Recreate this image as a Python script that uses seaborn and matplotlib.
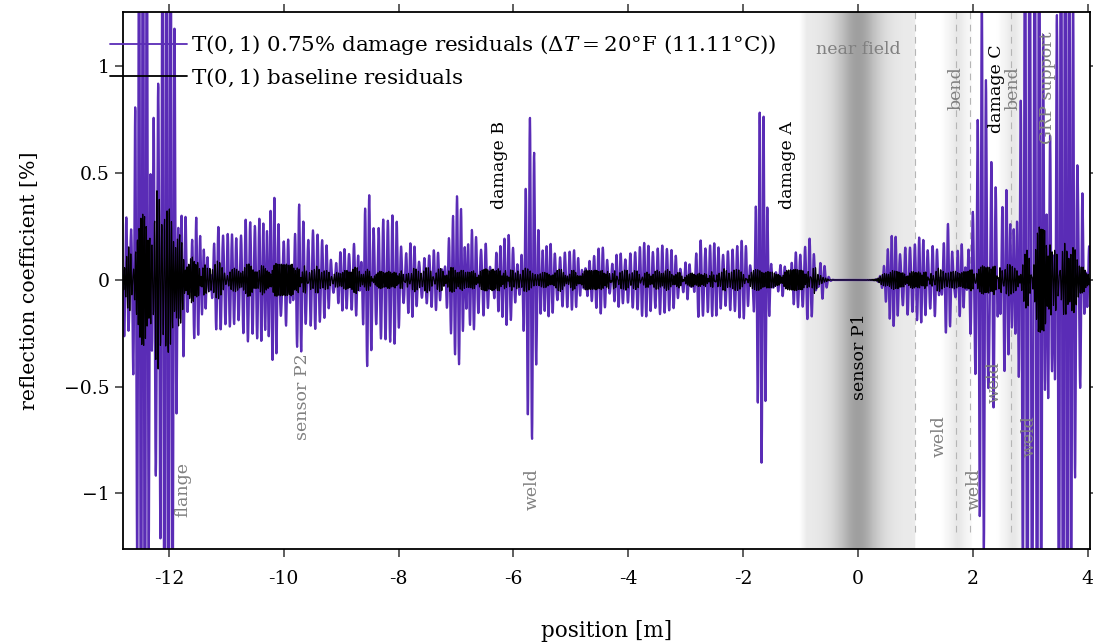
import numpy as np
import pandas as pd
import matplotlib
matplotlib.use("Agg")
import matplotlib.pyplot as plt
import seaborn as sns

# ---- echo tables: position [m], peak reflection [%], burst width [m] ----
damage_pos = [-12.75, -12.45, -12.26, -12.02, -11.75, -11.55, -11.35, -11.15,
              -10.90, -10.65, -10.40, -10.20, -9.95, -9.75, -9.50, -9.25,
              -9.00, -8.75, -8.55, -8.30, -8.05, -7.80, -7.55, -7.30,
              -7.10, -6.95, -6.75, -6.50, -6.30, -6.08, -5.70, -5.40,
              -5.15, -4.90, -4.70, -4.45, -4.20, -3.95, -3.70, -3.45,
              -3.20, -2.95, -2.75, -2.50, -2.25, -2.00, -1.68, -1.30,
              -1.10, -0.85, -0.65, 0.60, 0.85, 1.10, 1.35, 1.55,
              1.80, 2.00, 2.17, 2.35, 2.55, 2.75, 2.97, 3.15,
              3.35, 3.55, 3.70, 3.87, 4.00]
damage_amp = [0.30, 2.60, 0.90, 2.60, 0.45, 0.30, 0.20, 0.24,
              0.17, 0.30, 0.25, 0.40, 0.25, 0.35, 0.24, 0.15,
              0.12, 0.20, 0.40, 0.28, 0.28, 0.15, 0.13, 0.13,
              0.20, 0.36, 0.21, 0.21, 0.15, 0.19, 0.78, 0.15,
              0.15, 0.12, 0.08, 0.16, 0.10, 0.15, 0.14, 0.17,
              0.12, 0.10, 0.19, 0.15, 0.15, 0.17, 0.86, 0.08,
              0.12, 0.20, 0.12, 0.20, 0.18, 0.18, 0.20, 0.30,
              0.18, 0.30, 1.30, 0.70, 0.45, 0.40, 2.40, 2.00,
              0.90, 2.40, 1.50, 0.55, 0.20]
damage_wid = [0.06, 0.09, 0.05, 0.10, 0.09, 0.11, 0.12, 0.12,
              0.12, 0.11, 0.11, 0.10, 0.11, 0.10, 0.12, 0.12,
              0.12, 0.11, 0.09, 0.12, 0.12, 0.12, 0.12, 0.12,
              0.10, 0.08, 0.12, 0.12, 0.11, 0.10, 0.08, 0.12,
              0.12, 0.12, 0.11, 0.12, 0.12, 0.12, 0.12, 0.12,
              0.12, 0.11, 0.10, 0.12, 0.12, 0.11, 0.075, 0.10,
              0.10, 0.11, 0.07, 0.10, 0.11, 0.11, 0.10, 0.09,
              0.10, 0.08, 0.07, 0.08, 0.10, 0.09, 0.09, 0.08,
              0.07, 0.09, 0.07, 0.06, 0.05]

baseline_pos = [-12.70, -12.45, -12.15, -11.90, -11.60, -11.20, -10.60, -10.00,
                -9.40, -8.80, -8.20, -7.60, -7.00, -6.40, -5.80, -5.20,
                -4.60, -4.00, -3.40, -2.80, -2.20, -1.70, -1.10, -0.75,
                0.60, 1.00, 1.50, 1.90, 2.25, 2.60, 2.95, 3.20,
                3.45, 3.70, 3.95]
baseline_amp = [0.12, 0.30, 0.40, 0.24, 0.12, 0.07, 0.06, 0.06,
                0.05, 0.05, 0.05, 0.045, 0.045, 0.045, 0.045, 0.04,
                0.04, 0.04, 0.04, 0.04, 0.045, 0.045, 0.04, 0.04,
                0.04, 0.04, 0.045, 0.045, 0.07, 0.06, 0.10, 0.20,
                0.12, 0.14, 0.06]
baseline_wid = [0.08, 0.10, 0.10, 0.10, 0.12, 0.18, 0.25, 0.25,
                0.25, 0.25, 0.25, 0.25, 0.25, 0.25, 0.25, 0.25,
                0.25, 0.25, 0.25, 0.25, 0.25, 0.22, 0.20, 0.10,
                0.15, 0.20, 0.20, 0.18, 0.15, 0.15, 0.12, 0.10,
                0.12, 0.12, 0.08]

# carrier wavelengths [m] used in turn by successive echoes
damage_periods = [0.074, 0.068, 0.080, 0.071, 0.077]
baseline_periods = [0.036, 0.031, 0.043]

# ---- shaded regions: start, end, darkest position, darkness ----
zone_start = [-1.02, 1.45, 2.42]
zone_end = [1.00, 1.98, 2.92]
zone_peak = [0.00, 1.74, 2.70]
zone_dark = [0.47, 0.17, 0.17]
dashed_at = [1.00, 1.71, 1.95, 2.66]

# ---- annotations: text, x, y, colour, rotation ----
notes = [
    ("flange", -11.75, -0.98, "#808080", 90),
    ("sensor P2", -9.68, -0.545, "#808080", 90),
    ("weld", -5.68, -0.98, "#808080", 90),
    ("damage B", -6.24, 0.54, "black", 90),
    ("damage A", -1.23, 0.54, "black", 90),
    ("near field", 0.0, 1.08, "#808080", 0),
    ("sensor P1", 0.03, -0.36, "black", 90),
    ("bend", 1.71, 0.90, "#808080", 90),
    ("damage C", 2.41, 0.895, "black", 90),
    ("bend", 2.70, 0.90, "#808080", 90),
    ("GRP support", 3.30, 0.90, "#808080", 90),
    ("weld", 1.42, -0.73, "#808080", 90),
    ("weld", 2.02, -0.98, "#808080", 90),
    ("weld", 2.37, -0.48, "#808080", 90),
    ("weld", 2.98, -0.73, "#808080", 90),
]

x_ticks = [-12, -10, -8, -6, -4, -2, 0, 2, 4]
x_labels = ["-12", "-10", "-8", "-6", "-4", "-2", "0", "2", "4"]
y_ticks = [-1, -0.5, 0, 0.5, 1]
y_labels = ["\u22121", "\u22120.5", "0", "0.5", "1"]
x_range = (-12.8, 4.04)
y_range = (-1.26, 1.255)

label_damage = r"T$(0,1)$ 0.75% damage residuals ($\Delta T = 20$°F (11.11°C))"
label_base = r"T$(0,1)$ baseline residuals"

# ---- build the traces as sums of tone bursts ----
position = np.arange(x_range[0], x_range[1], 0.004)


def tone_bursts(pos, amp, wid, periods, phase_step):
    out = np.zeros_like(position)
    for i, (c, a, w) in enumerate(zip(pos, amp, wid)):
        env = a * np.exp(-0.5 * ((position - c) / w) ** 2)
        p = periods[i % len(periods)]
        out += env * np.sin(2 * np.pi * (position - c) / p + phase_step * (i + 1))
    return out


damage = tone_bursts(damage_pos, damage_amp, damage_wid, damage_periods, 0.9)
baseline = (tone_bursts(baseline_pos, baseline_amp, baseline_wid, baseline_periods, 1.3)
            + 0.3 * tone_bursts(baseline_pos, baseline_amp, baseline_wid,
                                baseline_periods[::-1], 2.1))

df = pd.concat([
    pd.DataFrame({"position": position, "value": damage, "series": "damage"}),
    pd.DataFrame({"position": position, "value": baseline, "series": "baseline"}),
])

sns.set_theme(style="ticks")
plt.rcParams["font.family"] = ["DejaVu Serif"]
plt.rcParams["mathtext.fontset"] = "dejavuserif"
plt.rcParams["text.color"] = "black"
plt.rcParams["axes.labelcolor"] = "black"

fig = plt.figure(figsize=(10.93, 6.43), dpi=100)
ax = fig.add_axes([123 / 1093, 1 - 549 / 643, (1090 - 123) / 1093, (549 - 12) / 643])

# shaded regions as a horizontal gradient image
shade_x = np.linspace(x_range[0], x_range[1], 3000)
shade = np.zeros_like(shade_x)
for s, e, pk, dk in zip(zone_start, zone_end, zone_peak, zone_dark):
    inside = (shade_x >= s) & (shade_x <= e)
    if pk == 0.0:
        prof = 0.15 + (dk - 0.15) * np.exp(-0.5 * ((shade_x - pk) / 0.30) ** 2)
        edge = np.clip((shade_x - s) / 0.12, 0, 1)
    else:
        prof = 0.04 + (dk - 0.04) * np.exp(-0.5 * ((shade_x - pk) / 0.11) ** 2)
        edge = np.clip((shade_x - s) / 0.08, 0, 1)
    shade = np.maximum(shade, np.where(inside, prof * edge, 0))
ax.imshow(shade[None, :], cmap="Greys", vmin=0, vmax=1, aspect="auto",
          extent=[x_range[0], x_range[1], y_range[0], y_range[1]],
          interpolation="bilinear", zorder=0)
for xd in dashed_at:
    ax.plot([xd, xd], [-1.18, y_range[1]], color="#b5b5b5", lw=0.8,
            ls=(0, (6, 5)), zorder=0.5)

sns.lineplot(data=df[df.series == "damage"], x="position", y="value",
             color="#5a2cb6", lw=1.6, estimator=None, sort=False, ax=ax,
             label=label_damage, zorder=2)
sns.lineplot(data=df[df.series == "baseline"], x="position", y="value",
             color="black", lw=0.85, estimator=None, sort=False, ax=ax,
             label=label_base, zorder=3)

for text, xt, yt, col, rot in notes:
    ax.text(xt, yt, text, color=col, rotation=rot, ha="center", va="center",
            fontsize=12.5, zorder=4)

ax.set_xlim(*x_range)
ax.set_ylim(*y_range)
ax.set_xticks(x_ticks)
ax.set_xticklabels(x_labels)
ax.set_yticks(y_ticks)
ax.set_yticklabels(y_labels)
ax.tick_params(axis="both", which="both", direction="out", length=6, width=1.1,
               color="#333333", labelcolor="black", labelsize=13.5,
               top=True, right=True, labeltop=False, labelright=False)
ax.tick_params(axis="x", pad=9)
for sp in ax.spines.values():
    sp.set_linewidth(1.3)
    sp.set_color("black")
ax.set_xlabel("position [m]", fontsize=15.5, labelpad=23)
ax.set_ylabel("reflection coefficient [%]", fontsize=14.8, labelpad=18)

leg = ax.legend(loc="upper left", bbox_to_anchor=(110 / 1093, 1 - 33 / 643),
                bbox_transform=fig.transFigure, frameon=False, fontsize=15.4,
                handlelength=3.6, handletextpad=0.2, borderpad=0,
                borderaxespad=0, labelspacing=0.45)
for h in leg.get_lines():
    h.set_linewidth(1.3)

fig.savefig("out.png", dpi=100)
